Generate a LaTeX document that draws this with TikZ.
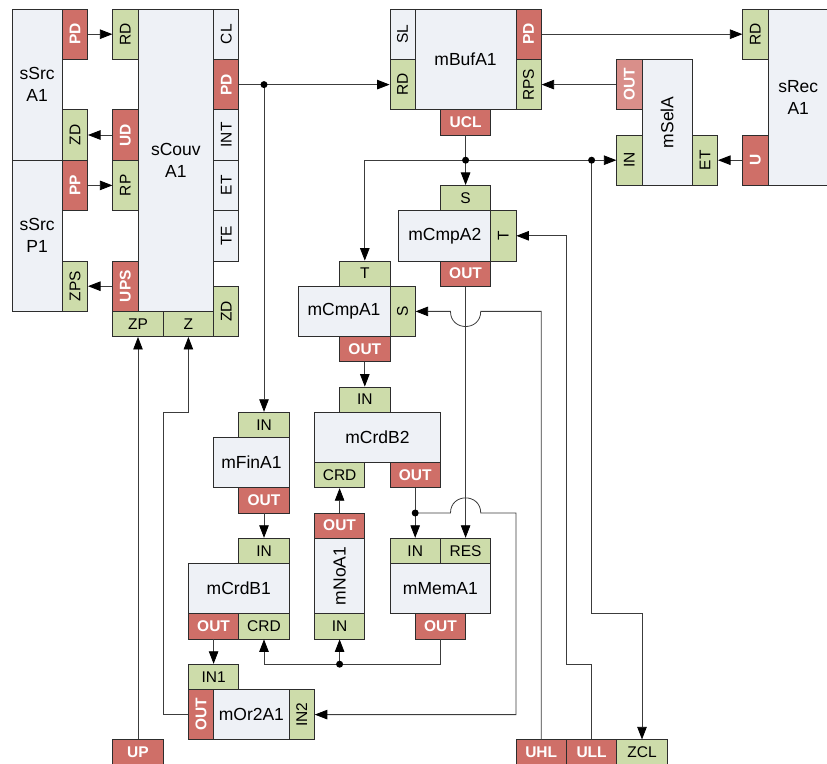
\documentclass[tikz,border=0pt]{standalone}
\usepackage{fontspec}
\setmainfont{Liberation Sans}
\usetikzlibrary{arrows.meta}
\definecolor{bodyc}{RGB}{238,241,246}
\definecolor{greenc}{RGB}{205,220,170}
\definecolor{redc}{RGB}{207,111,104}
\definecolor{lredc}{RGB}{217,143,138}
\definecolor{bordc}{RGB}{45,45,45}
\definecolor{linec}{RGB}{60,60,60}
\newcommand{\vtext}[1]{\rotatebox{90}{#1}}
\begin{document}
\begin{tikzpicture}[x=25.2pt,y=-25.2pt,
 box/.style={draw=bordc, line width=0.8pt, inner sep=0pt, align=center},
 bodyb/.style={box, fill=bodyc, font=\fontsize{17.5}{22}\selectfont},
 gp/.style={box, fill=greenc, font=\fontsize{15.5}{18}\selectfont},
 rp/.style={box, fill=redc, text=white, font=\fontsize{15.5}{18}\selectfont\bfseries},
 lp/.style={box, fill=bodyc, font=\fontsize{15.5}{18}\selectfont},
 v/.style={minimum width=25.2pt, minimum height=50.4pt},
 hz/.style={minimum width=50.4pt, minimum height=25.2pt},
 arw/.style={draw=linec, line width=0.8pt, -{Triangle[length=12.5pt,width=9.5pt,color=black]}},
 ln/.style={draw=linec, line width=0.8pt},
 dot/.style={circle, fill=black, inner sep=0pt, minimum size=7pt},
]
\useasboundingbox (-0.4762,-0.3571) rectangle (32.3413,29.9603);
\clip (-0.4762,-0.3571) rectangle (32.3413,29.9603);

% sSrcA1
\node[bodyb, minimum width=50.4pt, minimum height=151.2pt] (sA) at (1,3) {sSrc\\A1};
\node[rp,v] (sA-PD) at (2.5,1) {\vtext{PD}};
\node[gp,v] (sA-ZD) at (2.5,5) {\vtext{ZD}};
% sSrcP1
\node[bodyb, minimum width=50.4pt, minimum height=151.2pt] (sP) at (1,9) {sSrc\\P1};
\node[rp,v] (sP-PP) at (2.5,7) {\vtext{PP}};
\node[gp,v] (sP-ZPS) at (2.5,11) {\vtext{ZPS}};
% sCouvA1
\node[bodyb, minimum width=75.6pt, minimum height=302.4pt] (sC) at (6.5,6) {sCouv\\A1};
\node[gp,v] (sC-RD) at (4.5,1) {\vtext{RD}};
\node[rp,v] (sC-UD) at (4.5,5) {\vtext{UD}};
\node[gp,v] (sC-RP) at (4.5,7) {\vtext{RP}};
\node[rp,v] (sC-UPS) at (4.5,11) {\vtext{UPS}};
\node[lp,v] (sC-CL) at (8.5,1) {\vtext{CL}};
\node[rp,v] (sC-PD) at (8.5,3) {\vtext{PD}};
\node[lp,v] (sC-INT) at (8.5,5) {\vtext{INT}};
\node[lp,v] (sC-ET) at (8.5,7) {\vtext{ET}};
\node[lp,v] (sC-TE) at (8.5,9) {\vtext{TE}};
\node[gp,v] (sC-ZD) at (8.5,12) {\vtext{ZD}};
\node[gp,hz] (sC-ZP) at (5,12.5) {ZP};
\node[gp,hz] (sC-Z) at (7,12.5) {Z};
% mBufA1
\node[bodyb, minimum width=100.8pt, minimum height=100.8pt] (mB) at (18,2) {mBufA1};
\node[lp,v] (mB-SL) at (15.5,1) {\vtext{SL}};
\node[gp,v] (mB-RD) at (15.5,3) {\vtext{RD}};
\node[rp,v] (mB-PD) at (20.5,1) {\vtext{PD}};
\node[gp,v] (mB-RPS) at (20.5,3) {\vtext{RPS}};
\node[rp,hz] (mB-UCL) at (18,4.5) {UCL};
% sRecA1
\node[bodyb, minimum width=60.5pt, minimum height=176.4pt] (sR) at (31.2,3.5) {sRec\\A1};
\node[gp,v] (sR-RD) at (29.5,1) {\vtext{RD}};
\node[rp,v] (sR-U) at (29.5,6) {\vtext{U}};
% mSelA
\node[bodyb, minimum width=50.4pt, minimum height=126pt] (mS) at (26,4.5) {\vtext{mSelA}};
\node[rp,v,fill=lredc] (mS-OUT) at (24.5,3) {\vtext{OUT}};
\node[gp,v] (mS-IN) at (24.5,6) {\vtext{IN}};
\node[gp,v] (mS-ET) at (27.5,6) {\vtext{ET}};
% mCmpA2
\node[bodyb, minimum width=92pt, minimum height=50.4pt] (mC2) at (17.175,9) {mCmpA2};
\node[gp,hz] (mC2-S) at (18,7.5) {S};
\node[gp,v] (mC2-T) at (19.5,9) {\vtext{T}};
\node[rp,hz] (mC2-OUT) at (18,10.5) {OUT};
% mCmpA1
\node[bodyb, minimum width=92pt, minimum height=50.4pt] (mC1) at (13.175,12) {mCmpA1};
\node[gp,hz] (mC1-T) at (14,10.5) {T};
\node[gp,v] (mC1-S) at (15.5,12) {\vtext{S}};
\node[rp,hz] (mC1-OUT) at (14,13.5) {OUT};
% mCrdB2
\node[bodyb, minimum width=126pt, minimum height=50.4pt] (mD2) at (14.5,17) {mCrdB2};
\node[gp,hz] (mD2-IN) at (14,15.5) {IN};
\node[gp,hz] (mD2-CRD) at (13,18.5) {CRD};
\node[rp,hz] (mD2-OUT) at (16,18.5) {OUT};
% mFinA1
\node[bodyb, minimum width=75.6pt, minimum height=50.4pt] (mF) at (9.5,18) {mFinA1};
\node[gp,hz] (mF-IN) at (10,16.5) {IN};
\node[rp,hz] (mF-OUT) at (10,19.5) {OUT};
% mCrdB1
\node[bodyb, minimum width=100.8pt, minimum height=50.4pt] (mD1) at (9,23) {mCrdB1};
\node[gp,hz] (mD1-IN) at (10,21.5) {IN};
\node[rp,hz] (mD1-OUT) at (8,24.5) {OUT};
\node[gp,hz] (mD1-CRD) at (10,24.5) {CRD};
% mNoA1
\node[bodyb, minimum width=50.4pt, minimum height=75.6pt] (mN) at (13,22.5) {\vtext{mNoA1}};
\node[rp,hz] (mN-OUT) at (13,20.5) {OUT};
\node[gp,hz] (mN-IN) at (13,24.5) {IN};
% mMemA1
\node[bodyb, minimum width=100.8pt, minimum height=50.4pt] (mM) at (17,23) {mMemA1};
\node[gp,hz] (mM-IN) at (16,21.5) {IN};
\node[gp,hz] (mM-RES) at (18,21.5) {RES};
\node[rp,hz] (mM-OUT) at (17,24.5) {OUT};
% mOr2A1
\node[bodyb, minimum width=75.6pt, minimum height=50.4pt] (mO) at (9.5,28) {mOr2A1};
\node[gp,hz] (mO-IN1) at (8,26.5) {IN1};
\node[rp,v] (mO-OUT) at (7.5,28) {\vtext{OUT}};
\node[gp,v] (mO-IN2) at (11.5,28) {\vtext{IN2}};
% bottom ports
\node[rp,hz] (UP) at (5,29.5) {UP};
\node[rp,hz] (UHL) at (21,29.5) {UHL};
\node[rp,hz] (ULL) at (23,29.5) {ULL};
\node[gp,hz] (ZCL) at (25,29.5) {ZCL};

% junctions
\coordinate (J1) at (10,3);
\coordinate (J2) at (18,6);
\coordinate (J3) at (23,6);
\coordinate (J4) at (16,20);
\coordinate (J5) at (13,26);

% wires
\draw[arw] (sA-PD.east) -- (sC-RD.west);
\draw[arw] (sC-UD.west) -- (sA-ZD.east);
\draw[arw] (sP-PP.east) -- (sC-RP.west);
\draw[arw] (sC-UPS.west) -- (sP-ZPS.east);
\draw[arw] (sC-PD.east) -- (mB-RD.west);
\draw[arw] (J1) -- (mF-IN.north);
\draw[arw] (mB-PD.east) -- (sR-RD.west);
\draw[arw] (mS-OUT.west) -- (mB-RPS.east);
\draw[arw] (sR-U.west) -- (mS-ET.east);
\draw[arw] (mB-UCL.south) -- (mC2-S.north);
\draw[arw] (J2) -- (mS-IN.west);
\draw[arw] (J2) -| (mC1-T.north);
\draw[arw] (J3) -- (23,24) -| (ZCL.north);
\draw[arw] (UHL.north) -- (21,12) -- (18.6,12) .. controls (18.6,12.8) and (17.4,12.8) .. (17.4,12) -- (mC1-S.east);
\draw[arw] (ULL.north) -- (23,26) -- (22,26) |- (mC2-T.east);
\draw[arw] (mC2-OUT.south) -- (mM-RES.north);
\draw[arw] (mC1-OUT.south) -- (mD2-IN.north);
\draw[arw] (mN-OUT.north) -- (mD2-CRD.south);
\draw[ln] (mD2-OUT.south) -- (J4);
\draw[arw] (J4) -- (mM-IN.north);
\draw[arw] (J4) -- (17.4,20) .. controls (17.4,19.2) and (18.6,19.2) .. (18.6,20) -- (20,20) |- (mO-IN2.east);
\draw[arw] (mF-OUT.south) -- (mD1-IN.north);
\draw[arw] (mD1-OUT.south) -- (mO-IN1.north);
\draw[arw] (mM-OUT.south) |- (J5) -| (mD1-CRD.south);
\draw[arw] (J5) -- (mN-IN.south);
\draw[arw] (mO-OUT.west) -| (6,16) -| (sC-Z.south);
\draw[arw] (UP.north) -- (sC-ZP.south);

\node[dot] (d1) at (J1) {};
\node[dot] (d2) at (J2) {};
\node[dot] (d3) at (J3) {};
\node[dot] (d4) at (J4) {};
\node[dot] (d5) at (J5) {};
\end{tikzpicture}
\end{document}
